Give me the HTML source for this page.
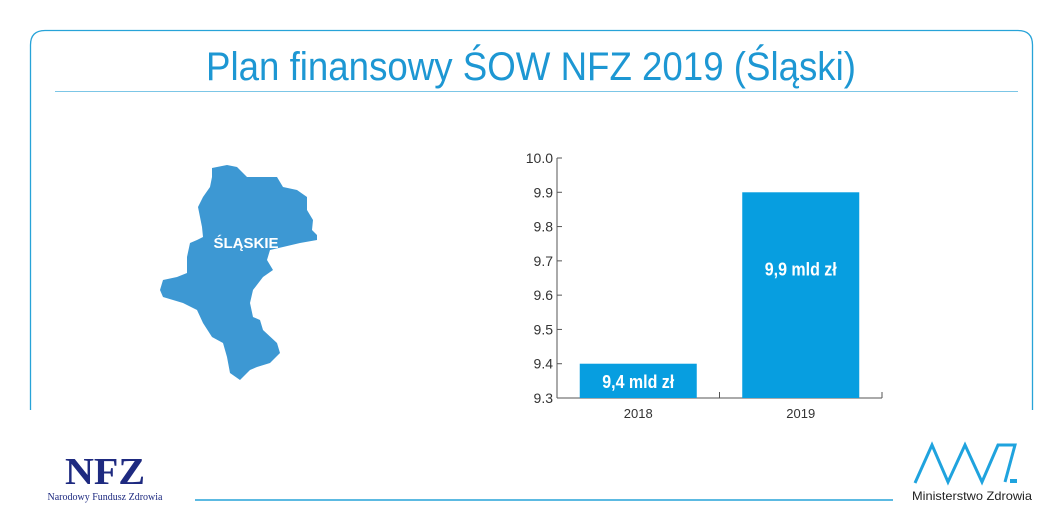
<!DOCTYPE html>
<html><head><meta charset="utf-8"><style>
body{margin:0;width:1063px;height:531px;background:#fff;overflow:hidden;font-family:"Liberation Sans",sans-serif;}
svg{display:block}
</style></head><body>
<svg width="1063" height="531" viewBox="0 0 1063 531">
<path d="M30.5,410 V45 Q30.5,30.5 45,30.5 H1018 Q1032.5,30.5 1032.5,45 V410" fill="none" stroke="#27a3d8" stroke-width="1.3"/>
<text x="531" y="80" text-anchor="middle" font-size="40" fill="#1d97d3" font-family="Liberation Sans Narrow, Liberation Sans, sans-serif" textLength="650" lengthAdjust="spacingAndGlyphs">Plan finansowy ŚOW NFZ 2019 (Śląski)</text>
<line x1="55" y1="91.5" x2="1018" y2="91.5" stroke="#7cc6e6" stroke-width="1"/>
<polygon fill="#3d98d3" points="212,168 227,165 237,167 247,177 277,177 283,187 297,190 307,197 307,210 313,220 312,230 317,235 317,240 300,243 283,247 270,250 267,260 273,270 263,277 253,290 250,303 253,317 260,320 263,330 277,343 280,353 270,363 257,367 250,370 240,380 230,373 227,357 223,343 212,337 203,323 197,310 183,303 173,300 163,297 160,290 163,280 177,277 187,273 187,257 190,243 197,240 203,237 202,227 200,217 198,207 203,197 210,187 212,177"/>
<text x="246" y="248" text-anchor="middle" font-size="15" font-weight="bold" fill="#fff">ŚLĄSKIE</text>
<g id="chart"></g>
<line x1="195" y1="500" x2="893" y2="500" stroke="#27a3d8" stroke-width="1.5"/>
<text x="105" y="484" text-anchor="middle" font-size="38" font-weight="bold" fill="#1e2a80" font-family="Liberation Serif, serif" textLength="80" lengthAdjust="spacingAndGlyphs">NFZ</text>
<text x="105" y="500" text-anchor="middle" font-size="10" fill="#1e2a80" font-family="Liberation Serif, serif">Narodowy Fundusz Zdrowia</text>
<polyline points="915,483 932,445 948,482 965,445 982,482 998,445 1015,445 1005,482" fill="none" stroke="#1fa3de" stroke-width="3"/>
<rect x="1010" y="479" width="7" height="4" fill="#1fa3de"/>
<text x="972" y="500" text-anchor="middle" font-size="12" fill="#222" textLength="120" lengthAdjust="spacingAndGlyphs">Ministerstwo Zdrowia</text>
</svg>
<script>
const categories=["2018","2019"];
const values=[9.4,9.9];
const labels=["9,4 mld zł","9,9 mld zł"];
const ticks=[9.3,9.4,9.5,9.6,9.7,9.8,9.9,10.0];
const NS="http://www.w3.org/2000/svg";
const g=document.getElementById("chart");
const yMin=9.3,yMax=10.0,y0=398,y1=158,xL=557,xR=882;
function y(v){return y0+(v-yMin)/(yMax-yMin)*(y1-y0);}
const band=(xR-xL)/categories.length;
function xc(i){return xL+band*(i+0.5);}
function mk(tag,attrs){const e=document.createElementNS(NS,tag);for(const k in attrs)e.setAttribute(k,attrs[k]);g.appendChild(e);return e;}
let e=mk("line",{x1:xL,y1:y(yMax),x2:xL,y2:y0,stroke:"#555","stroke-width":1});


e=mk("line",{x1:xL,y1:y0,x2:xR,y2:y0,stroke:"#555","stroke-width":1});


ticks.forEach(t=>{
  const tk=mk("line",{x1:xL,y1:y(t),x2:xL+5,y2:y(t),stroke:"#555"});
  
  
  const tx=mk("text",{x:xL-4,y:y(t)+5,"text-anchor":"end","font-size":14,fill:"#333"});
  tx.textContent=t.toFixed(1);
  
  
});
for(let i=1;i<=categories.length;i++){
  const tk=mk("line",{x1:xL+band*i,y1:y0,x2:xL+band*i,y2:y0-6,stroke:"#555"});
  
  
}
categories.forEach((c,i)=>{
  const w=117;
  const r=mk("rect",{x:xc(i)-w/2,y:y(values[i]),width:w,height:y0-y(values[i]),fill:"#079ee0"});
  
  
  const ly=values[i]-yMin<0.2?(y(values[i])+y0)/2+7:y(values[i])+83;
  const t=mk("text",{x:xc(i),y:ly,"text-anchor":"middle","font-size":18,"font-weight":"bold",fill:"#fff",textLength:72,lengthAdjust:"spacingAndGlyphs"});
  t.textContent=labels[i];
  
  
  const xl=mk("text",{x:xc(i),y:418,"text-anchor":"middle","font-size":13,fill:"#333"});
  xl.textContent=c;
  
  
});
</script>
</body></html>
